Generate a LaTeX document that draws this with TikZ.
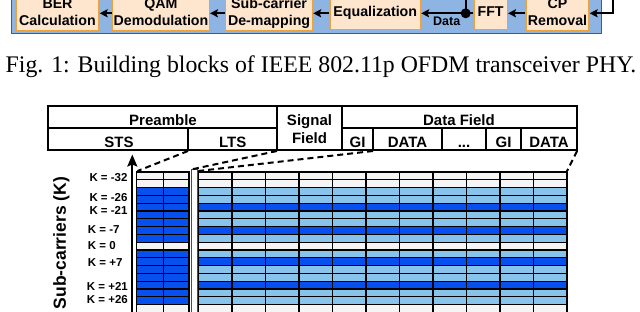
\documentclass[tikz,border=0pt]{standalone}
\usepackage{fontspec}
\setmainfont{Liberation Serif}
\newfontfamily\hv{Liberation Sans}
\usetikzlibrary{arrows.meta}
\definecolor{bandblue}{RGB}{142,180,227}
\definecolor{bandedge}{RGB}{62,92,140}
\definecolor{peach}{RGB}{253,229,206}
\definecolor{orangeedge}{RGB}{236,162,62}
\definecolor{dkblue}{RGB}{8,80,238}
\definecolor{ltblue}{RGB}{135,195,235}
\definecolor{cellwhite}{RGB}{245,245,245}
\begin{document}
\begin{tikzpicture}[x=1pt,y=-1pt,
  blk/.style={draw=orangeedge, fill=peach, line width=1.3pt, inner sep=0pt,
    font=\hv\bfseries\fontsize{14.2}{17.5}\selectfont, align=center, minimum height=32pt},
  arr/.style={line width=1.8pt, -{Stealth[length=8pt,width=8pt,inset=1.5pt]}},
  tbl/.style={line width=2.2pt},
  hdr/.style={font=\hv\bfseries\fontsize{15}{18}\selectfont, anchor=base, inner sep=0pt},
  klab/.style={font=\hv\bfseries\fontsize{11.5}{13}\selectfont, anchor=west, inner sep=0pt},
  cellline/.style={draw=black, line width=1.1pt},
  dsh/.style={line width=2pt, dash pattern=on 6pt off 4pt}
]
\useasboundingbox (0,0) rectangle (640,311);
\clip (0,0) rectangle (640,311);

% ---------- top block diagram (cut off) ----------
\draw[fill=bandblue, draw=bandedge, line width=1.5pt] (11.7,-10) rectangle (601.7,33.3);
\node[blk, minimum width=83pt] (ber) at (57.5,13.3) {\strut BER\\\strut Calculation};
\node[blk, minimum width=96.6pt] (qam) at (161,13.3) {\strut QAM\\\strut Demodulation};
\node[blk, minimum width=86.8pt] (sub) at (269.1,13.3) {\strut Sub-carrier\\\strut De-mapping};
\node[blk, minimum width=90.5pt] (eq) at (375.25,13.3) {\strut Equalization};
\node[blk, minimum width=33.3pt] (fft) at (490.65,13.3) {\strut FFT};
\node[blk, minimum width=63pt] (cp) at (557.5,13.3) {\strut CP\\\strut Removal};

\draw[arr] (qam.west) -- (ber.east);
\draw[arr] (sub.west) -- (qam.east);
\draw[arr] (eq.west) -- (sub.east);
\draw[arr] (fft.west) -- (eq.east);
\draw[arr] (cp.west) -- (fft.east);
\coordinate (tap) at (465.7,13.3);
\coordinate (tapTop) at (465.7,-6);
\draw[line width=1.8pt] (tap) -- (tapTop);
\fill (tap) circle (5pt);
\node[font=\hv\bfseries\fontsize{12.5}{15}\selectfont, inner sep=0pt] (datalbl) at (446.7,21.3) {Data};
\coordinate (fbTop) at (613.3,-6);
\coordinate (fbCorner) at (613.3,13.3);
\draw[arr] (fbTop) -- (fbCorner) -- (cp.east);

% ---------- caption ----------
\node[font=\fontsize{23.8}{28}\selectfont, anchor=base, inner sep=0pt] (caption) at (321,72.3)
  {Fig. 1: Building blocks of IEEE 802.11p OFDM transceiver PHY.};

% ---------- frame table ----------
\draw[tbl] (48,106) rectangle (577,150);
\draw[tbl] (277,106) -- (277,150);
\draw[tbl] (342,106) -- (342,150);
\draw[tbl] (48,128) -- (277,128);
\draw[tbl] (342,128) -- (577,128);
\draw[tbl] (188,128) -- (188,150);
\foreach \xx in {373,442,486,521} \draw[tbl] (\xx,128) -- (\xx,150);

\node[hdr] (pre) at (163,125) {Preamble};
\node[hdr] (sts) at (119,147.7) {STS};
\node[hdr] (lts) at (232.7,147.7) {LTS};
\node[hdr] (sig) at (309.5,125) {Signal};
\node[hdr] (fld) at (309.5,143.3) {Field};
\node[hdr] (df) at (459,125) {Data Field};
\node[hdr] (gi1) at (357.5,147.7) {GI};
\node[hdr] (da1) at (407.5,147.7) {DATA};
\node[hdr] (dots) at (464,147.7) {...};
\node[hdr] (gi2) at (503.5,147.7) {GI};
\node[hdr] (da2) at (549,147.7) {DATA};

% ---------- sub-carrier grid ----------
% preamble columns
\foreach \c [count=\i from 0] in {cellwhite,cellwhite,dkblue,dkblue,dkblue,dkblue,dkblue,dkblue,dkblue,cellwhite,dkblue,dkblue,dkblue,dkblue,dkblue,dkblue,dkblue,cellwhite,cellwhite}{
  \filldraw[fill=\c, cellline] (136.7,{172+\i*7.8}) rectangle (163.3,{179.8+\i*7.8});
  \filldraw[fill=\c, cellline] (163.3,{172+\i*7.8}) rectangle (189,{179.8+\i*7.8});
}
% data columns
\foreach \c [count=\i from 0] in {cellwhite,cellwhite,ltblue,ltblue,dkblue,ltblue,ltblue,dkblue,ltblue,cellwhite,ltblue,dkblue,ltblue,ltblue,dkblue,ltblue,ltblue,cellwhite,cellwhite}{
  \foreach \k in {0,...,10}{
    \filldraw[fill=\c, cellline] ({198.3+\k*33.5},{172+\i*7.8}) rectangle ({231.8+\k*33.5},{179.8+\i*7.8});
  }
}
\foreach \k in {0,...,11}{
  \draw[line width=1.5pt] ({198.3+\k*33.5},172) -- ({198.3+\k*33.5},320);
}
\draw[line width=1.5pt] (136.7,172) -- (136.7,320);
\draw[line width=1.5pt] (163.3,172) -- (163.3,320);
\draw[line width=1.5pt] (189,172) -- (189,320);
% narrow strip
\filldraw[fill=white, draw=black!70, line width=0.6pt] (191.2,169.5) rectangle (197.2,320);

% axis
\coordinate (axBot) at (132.3,330);
\coordinate (axTop) at (132.3,154.5);
\draw[line width=2pt, -{Stealth[width=10pt,length=12pt,inset=2pt]}] (axBot) -- (axTop);

\node[rotate=90, anchor=east, font=\hv\bfseries\fontsize{17.5}{20}\selectfont, inner sep=0pt] (subc) at (61.3,176.7) {Sub-carriers (K)};

\node[klab] (k1) at (89.3,177.3) {K = -32};
\node[klab] (k2) at (89.3,197.7) {K = -26};
\node[klab] (k3) at (89.3,210.7) {K = -21};
\node[klab] (k4) at (87.7,229.3) {K = -7};
\node[klab] (k5) at (87.7,246) {K = 0};
\node[klab] (k6) at (87.7,262.7) {K = +7};
\node[klab] (k7) at (86.7,286) {K = +21};
\node[klab] (k8) at (86.7,299.3) {K = +26};

% dashed mapping lines
\coordinate (stsBR) at (188,151);
\coordinate (ltsBR) at (277,151);
\coordinate (giBR) at (373,151);
\coordinate (dfBR) at (577,151);
\coordinate (gA) at (137.5,171);
\coordinate (gB) at (191.2,169.5);
\coordinate (gC) at (198.3,171);
\coordinate (gD) at (566.8,171.5);
\draw[dsh] (stsBR) -- (gA);
\draw[dsh] (ltsBR) -- (gB);
\draw[dsh] (giBR) -- (gC);
\draw[dsh] (dfBR) -- (gD);
\end{tikzpicture}
\end{document}
